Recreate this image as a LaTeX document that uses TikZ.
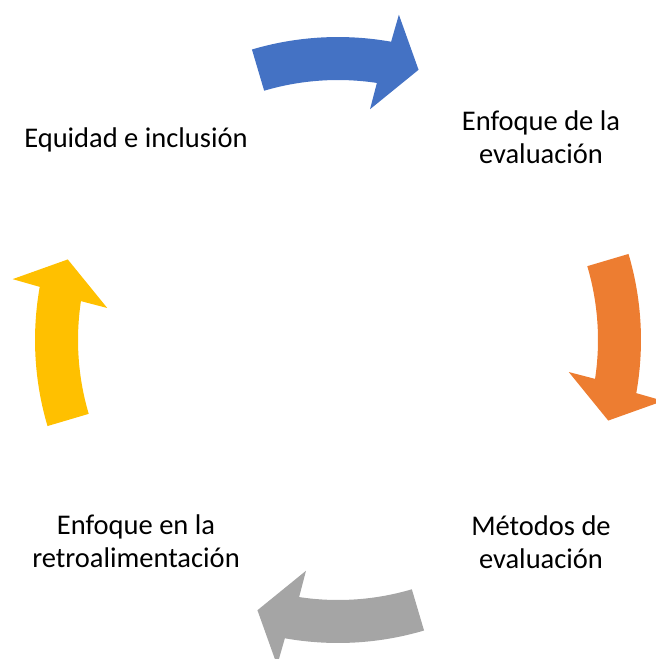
\documentclass[tikz,border=0pt]{standalone}
\usepackage{fontspec}
\setmainfont{Carlito}
\definecolor{cblue}{HTML}{4472C4}
\definecolor{corange}{HTML}{ED7D31}
\definecolor{cgray}{HTML}{A5A5A5}
\definecolor{cyellow}{HTML}{FFC000}
\tikzset{
  lbl/.style={align=center, inner sep=0pt, text=black, font=\fontsize{28.5pt}{33pt}\selectfont},
  cycarrow/.pic={
    \fill[pic actions] (0:303pt) arc[start angle=0, end angle=-26.6, radius=303pt]
      -- (-27.1:331pt) -- (-33.1:282pt) -- (-24.4:233pt) -- (-25.1:260pt)
      arc[start angle=-25.1, end angle=0, radius=260pt] -- cycle;
  }
}
\begin{document}
\begin{tikzpicture}[x=1pt,y=1pt]
\useasboundingbox (0,0) rectangle (656,-659);
\clip (0,0) rectangle (656,-659);
\coordinate (c) at (338,-340);
\pic[fill=cblue, rotate=106.5] at (c) {cycarrow};
\pic[fill=corange, rotate=16.5] at (c) {cycarrow};
\pic[fill=cgray, rotate=-73.5] at (c) {cycarrow};
\pic[fill=cyellow, rotate=-163.5] at (c) {cycarrow};
\node[lbl, anchor=base] (eq) at (136,-147) {Equidad e inclusión};
\node[lbl, anchor=base] (enf) at (541,-163) {Enfoque de la\\evaluación};
\node[lbl, anchor=base] (met) at (541,-568) {Métodos de\\evaluación};
\node[lbl, anchor=base] (ret) at (136,-567) {Enfoque en la\\retroalimentación};
\end{tikzpicture}
\end{document}
